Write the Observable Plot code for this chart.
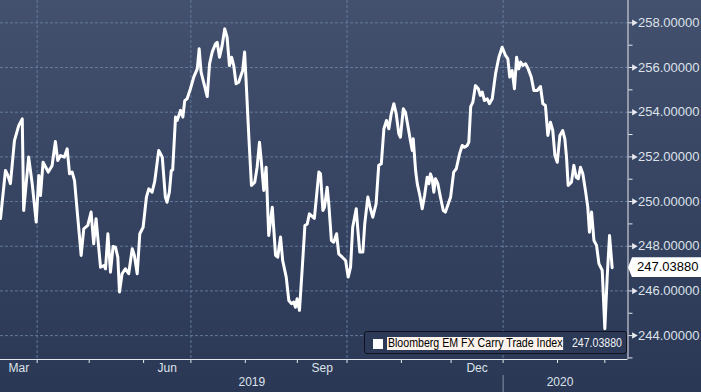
<!DOCTYPE html>
<html><head><meta charset="utf-8">
<script src="https://cdn.jsdelivr.net/npm/d3@7"></script>
<script src="https://cdn.jsdelivr.net/npm/@observablehq/plot@0.6"></script>
<style>
html,body{margin:0;padding:0;background:#2b3855;}
#wrap{position:relative;width:701px;height:392px;overflow:hidden;
  background:linear-gradient(to bottom,#44516e 0%,#3a4865 35%,#303e5b 75%,#2c3a57 92%,#2b3855 100%);
  font-family:"Liberation Sans",Arial,sans-serif;}
#wrap svg{position:absolute;left:0;top:0;display:block;}
.legend{position:absolute;left:364px;top:331px;width:263px;height:23px;border:1px solid #0e131c;border-radius:3px;
  background:#2c3a57;box-sizing:border-box;}
.legend .sw{position:absolute;left:8px;top:7px;width:10px;height:10px;background:#ffffff;}
.legend .name{position:absolute;left:22px;top:5px;height:13px;line-height:13px;font-size:12px;color:#000;background:#fdf3ec;
  white-space:nowrap;transform-origin:0 0;transform:scaleX(0.885);padding:0 1px;}
.legend .val{position:absolute;left:207px;top:5px;line-height:13px;font-size:12px;color:#f2f4f7;white-space:nowrap;
  transform-origin:0 0;transform:scaleX(0.88);}
.tag{position:absolute;left:628px;width:73px;height:20px;background:#ffffff;color:#000;font-size:13px;line-height:20px;
  box-sizing:border-box;padding-left:9px;clip-path:polygon(0 50%,4px 0,100% 0,100% 100%,4px 100%);white-space:nowrap;}
</style>
</head><body>
<div id="wrap"></div>
<script>
// trading days counted from 2019-04-01 (= day 0), weekdays only
const tradingDay = [
 -15.5,-13.4,-12.4,-11.3,-9.6,-7.8,-6.3,-5.7,-3.6,-2.1,
 -0.4,0.7,1.4,2.5,4.7,6.3,7.7,8.7,9.9,11.5,
 12.7,13.7,14.8,15.8,16.9,18.6,19.7,21.4,22.8,23.9,
 24.9,26.8,28.2,28.9,29.9,31.0,32.1,33.1,34.1,34.8,
 35.9,37.3,38.7,40.2,41.1,42.3,43.4,44.8,46.2,47.2,
 48.6,49.7,51.4,52.9,54.2,54.9,55.9,56.7,57.3,58.5,
 59.2,60.6,61.6,62.4,63.4,64.8,66.2,67.7,68.5,69.3,
 70.9,71.9,72.9,74.0,75.4,76.1,77.1,78.2,79.3,80.3,
 81.3,82.2,83.1,84.1,85.2,86.9,87.7,88.4,89.5,90.6,
 92.0,93.0,94.0,94.8,95.8,96.8,97.9,99.4,100.8,101.7,
 102.9,103.8,105.3,106.4,107.5,108.5,109.2,109.9,110.9,112.1,
 113.2,114.2,115.1,117.2,119.1,119.8,120.8,121.5,122.6,123.3,
 124.4,125.4,126.6,127.5,129.0,130.4,131.5,132.5,133.4,134.9,
 135.6,136.4,137.7,138.5,139.8,140.9,141.9,143.3,144.4,145.5,
 146.6,147.7,148.7,149.7,150.8,151.8,152.9,153.6,154.8,155.7,
 156.7,157.8,158.6,159.0,160.0,160.7,161.8,162.8,163.8,164.9,
 165.6,166.3,167.0,167.7,168.4,169.4,170.5,171.7,172.6,173.6,
 174.8,176.1,177.2,178.6,179.7,180.7,181.8,182.5,183.3,184.2,
 185.3,186.5,187.4,188.2,189.1,190.3,191.2,192.4,193.8,195.2,
 196.6,198.0,199.0,199.8,200.8,201.8,202.7,203.6,204.4,205.3,
 206.5,207.6,208.9,210.0,211.4,212.8,213.8,214.9,215.9,217.0,
 218.0,218.9,219.9,221.0,222.2,223.1,223.8,224.5,225.9,226.9,
 227.9,228.8,229.7,230.7,231.8,232.8,233.5,234.4,235.4,236.5,
 237.5,238.9,240.0,241.0,242.0,243.1
];
const indexValue = [
 249.24,251.39,251.17,250.80,252.73,253.40,253.70,249.60,251.99,250.80,
 249.08,251.17,250.27,251.76,251.32,251.60,252.69,251.84,252.06,251.99,
 252.36,251.24,251.32,250.94,249.60,247.59,248.78,248.93,249.53,248.11,
 249.23,247.06,247.14,246.99,248.56,246.84,247.99,247.96,247.51,245.95,
 246.77,246.99,246.77,247.89,247.59,246.77,248.56,248.85,250.20,250.57,
 250.42,250.90,252.29,251.99,250.20,249.97,250.42,251.39,251.42,253.78,
 253.63,254.08,253.78,254.52,254.60,255.05,255.57,255.94,256.84,255.79,
 255.12,254.70,256.17,256.69,257.06,257.13,256.46,256.98,257.73,257.36,
 256.09,256.46,256.09,255.27,255.34,255.87,256.69,255.27,252.88,250.72,
 250.87,251.54,252.66,251.76,250.50,251.54,248.48,249.75,247.59,247.51,
 248.41,247.36,246.62,245.57,245.43,245.50,245.27,245.65,245.13,247.06,
 248.93,249.00,249.45,249.25,251.32,251.24,249.60,249.75,250.64,249.90,
 248.26,248.18,248.56,247.66,247.51,247.36,246.62,247.06,248.85,249.68,
 248.71,247.74,247.74,249.00,250.20,249.68,249.30,249.90,251.62,251.69,
 253.26,253.63,253.26,253.93,254.38,253.93,253.03,252.88,254.15,254.00,
 253.41,252.73,252.29,252.81,251.39,250.80,250.27,249.68,250.27,251.09,
 250.80,251.24,251.02,250.42,251.02,250.80,250.20,249.60,249.53,249.83,
 250.20,251.32,251.47,252.14,252.51,252.43,252.51,252.66,254.25,254.45,
 255.19,255.05,254.75,254.90,254.52,254.60,254.38,254.60,255.72,256.46,
 256.91,256.54,256.39,255.57,255.87,255.05,256.46,255.94,256.24,256.09,
 256.17,255.94,255.57,254.97,254.97,255.15,254.38,254.30,252.96,253.55,
 253.18,252.06,251.76,252.96,253.18,252.81,251.99,250.72,250.87,251.62,
 251.09,251.02,251.54,251.24,250.50,249.75,248.63,249.53,248.26,248.04,
 247.22,246.92,244.31,246.62,248.48,247.0388
];
const seriesName = "Bloomberg EM FX Carry Trade Index";
const lastValue = 247.0388;
const baseDate = "2019-04-01";
const yTicks = [244, 246, 248, 250, 252, 254, 256, 258];
const yMinorTicks = [243, 245, 247, 249, 251, 253, 255, 257];
const monthNames = ["Jan","Feb","Mar","Apr","May","Jun","Jul","Aug","Sep","Oct","Nov","Dec"];
const labeledMonths = ["Mar","Jun","Sep","Dec"];
const xDomain = [-15.5, 249.8];
const yDomain = [242.93, 259.0];

// weekday counting
const base = new Date(baseDate + "T00:00:00Z");
function tdIndex(date) {
  if (date >= base) return d3.utcDays(base, date).filter(d => d.getUTCDay() % 6 !== 0).length;
  return -d3.utcDays(date, base).filter(d => d.getUTCDay() % 6 !== 0).length;
}
const months = d3.utcMonths(new Date(Date.UTC(2019, 1, 1)), new Date(Date.UTC(2020, 4, 1)));
const monthIdx = months.map(tdIndex);
const monthTicks = monthIdx.filter(t => t > xDomain[0] && t < xDomain[1]);
const quarterTicks = months.filter(m => m.getUTCMonth() % 3 === 0).map(tdIndex)
  .filter(t => t > xDomain[0] && t < xDomain[1]);
const monthLabelMap = new Map();
months.forEach((m, i) => {
  if (i + 1 >= months.length) return;
  const name = monthNames[m.getUTCMonth()];
  if (!labeledMonths.includes(name)) return;
  const a = monthIdx[i], b = monthIdx[i + 1];
  const s = Math.max(a, xDomain[0]), e = Math.min(b, xDomain[1]);
  if (e - s < (b - a) / 2) return;
  monthLabelMap.set((s + e) / 2, name);
});
const lastDay = d3.max(tradingDay);
const yearLabelMap = new Map();
const yearSeps = [];
[2019, 2020].forEach(y => {
  const a = tdIndex(new Date(Date.UTC(y, 0, 1)));
  const b = tdIndex(new Date(Date.UTC(y + 1, 0, 1)));
  if (a > xDomain[0]) yearSeps.push(a);
  const s = Math.max(a, xDomain[0]), e = Math.min(b, lastDay + 2);
  yearLabelMap.set((s + e) / 2, String(y));
});

const data = tradingDay.map((t, i) => ({t, v: indexValue[i]}));
const gridColor = "#6a82a6";
const axisColor = "#e6e9ee";
const fmt = d3.format(".5f");

const plot = Plot.plot({
  width: 701, height: 392,
  marginLeft: 0, marginRight: 73.5, marginTop: 0, marginBottom: 33,
  style: {background: "transparent", color: "#dde2ea", fontFamily: "Liberation Sans, Arial, sans-serif", fontSize: "12px", overflow: "visible"},
  x: {type: "linear", domain: xDomain, label: null},
  y: {domain: yDomain, label: null},
  marks: [
    Plot.gridY(yTicks, {stroke: gridColor, strokeOpacity: 0.85, strokeDasharray: "3,2"}),
    Plot.gridX(quarterTicks, {stroke: gridColor, strokeOpacity: 0.85, strokeDasharray: "3,2"}),
    Plot.line(data, {x: "t", y: "v", stroke: "#ffffff", strokeWidth: 3, strokeLinejoin: "round", strokeLinecap: "round"}),
    Plot.ruleY([yDomain[0]], {stroke: axisColor, strokeWidth: 1}),
    Plot.ruleX([xDomain[1]], {stroke: axisColor, strokeWidth: 1}),
    Plot.axisX(monthTicks, {tickSize: 4, tickFormat: () => "", stroke: axisColor}),
    Plot.axisX([...monthLabelMap.keys()], {tickSize: 0, tickPadding: 4, tickFormat: d => monthLabelMap.get(d), fill: "#dde2ea"}),
    Plot.axisX([...yearLabelMap.keys()], {tickSize: 0, tickPadding: 18, tickFormat: d => yearLabelMap.get(d), fill: "#dde2ea"}),
    Plot.ruleX(yearSeps, {insetTop: 375, insetBottom: -33, stroke: "#8893a8"}),
    Plot.axisY(yMinorTicks.filter(v => v > yDomain[0]), {anchor: "right", tickSize: 4, tickFormat: () => "", stroke: axisColor}),
    Plot.axisY(yTicks, {anchor: "right", tickSize: 6, tickPadding: 4, tickFormat: fmt, fill: "#dde2ea", fontSize: 13, stroke: axisColor}),
    Plot.dot(yTicks, {x: () => xDomain[1], y: d => d, dx: 6, symbol: "triangle", rotate: 90, r: 2.4, fill: axisColor, stroke: null})
  ]
});
const wrap = document.getElementById("wrap");
wrap.appendChild(plot);

// current value tag positioned by the y scale
const tag = document.createElement("div");
tag.className = "tag";
tag.textContent = fmt(lastValue);
tag.style.top = (plot.scale("y").apply(lastValue) - 10) + "px";
wrap.appendChild(tag);

// legend
const lg = document.createElement("div");
lg.className = "legend";
lg.innerHTML = '<span class="sw"></span><span class="name"></span><span class="val"></span>';
lg.querySelector(".name").textContent = seriesName;
lg.querySelector(".val").textContent = fmt(lastValue);
wrap.appendChild(lg);
</script>
</body></html>
